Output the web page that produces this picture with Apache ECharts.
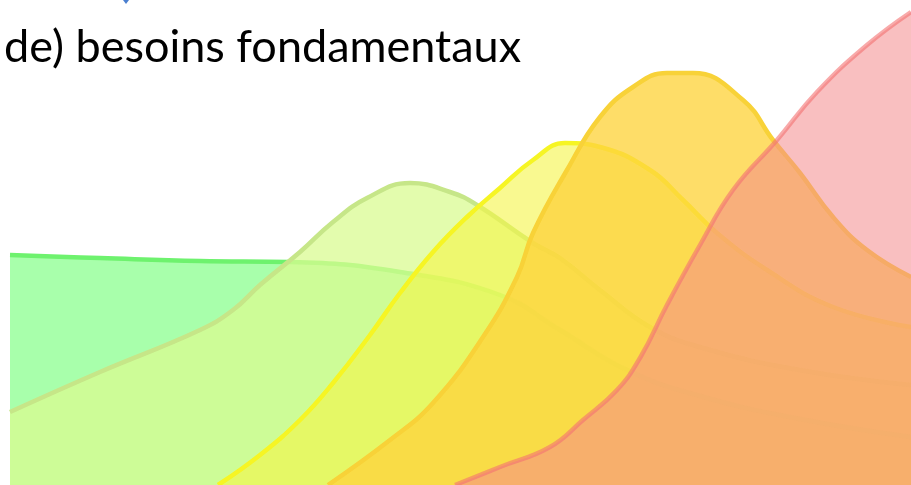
<!DOCTYPE html>
<html>
<head>
<meta charset="utf-8">
<script src="https://cdn.jsdelivr.net/npm/echarts@6/dist/echarts.min.js"></script>
<style>html,body{margin:0;padding:0;background:#fff;}#c{width:911px;height:485px;}</style>
</head>
<body>
<div id="c"></div>
<script>
// x: horizontal position (0..901), y: height above bottom (0..485)
const seriesNames = ['Physiologiques', 'Sécurité', 'Appartenance', 'Estime', 'Accomplissement'];
const greenData = [[0,230],[90,227],[190,224],[280,223],[390,213],[490,190],[550,155],[617,115],[690,89],[790,66],[901,48]];
const lightGreenData = [[0,73],[90,113],[190,155],[223,175],[250,200],[290,233],[323,263],[357,287],[400,302],[440,293],[467,280],[523,242],[550,227],[590,195],[640,158],[690,138],[790,115],[901,100]];
const yellowData = [[208,0],[250,30],[290,65],[323,102],[360,150],[390,192],[423,233],[457,268],[490,297],[523,325],[555,342],[590,338],[640,315],[673,285],[707,252],[757,215],[823,178],[901,158]];
const goldData = [[318,0],[380,45],[423,82],[473,148],[507,208],[523,252],[557,315],[590,368],[623,398],[657,412],[683,412],[733,385],[763,345],[790,312],[823,268],[857,235],[901,208]];
const pinkData = [[445,0],[490,18],[540,38],[573,65],[607,95],[630,127],[657,180],[690,240],[723,295],[767,345],[807,393],[857,440],[901,473]];

const fills = ['rgba(0,255,10,0.34)','rgba(218,251,145,0.75)','rgba(245,245,70,0.6)','rgba(254,212,62,0.78)','rgba(244,138,140,0.55)'];
const strokes = ['#6ef26e','#c6e688','#f6f524','#f8d238','rgba(243,113,113,0.6)'];
const allData = [greenData, lightGreenData, yellowData, goldData, pinkData];

const chart = echarts.init(document.getElementById('c'));
chart.setOption({
  animation: false,
  grid: {left: 10, right: 0, top: 0, bottom: 0},
  xAxis: {type: 'value', min: 0, max: 901, show: false},
  yAxis: {type: 'value', min: 0, max: 485, show: false},
  series: allData.map((d, i) => ({
    name: seriesNames[i],
    type: 'line',
    data: d,
    smooth: 0.45,
    symbol: 'none',
    lineStyle: {color: strokes[i], width: 4.5},
    areaStyle: {color: fills[i], opacity: 1},
    z: 2 + i
  })),
  graphic: [
    {type: 'text', left: 4, top: 25, z: 100,
     style: {text: 'de) besoins fondamentaux', font: '45px Lato', fill: '#000'}},
    {type: 'polygon', z: 100, shape: {points: [[123,0],[129,0],[126,4]]}, style: {fill: '#4a7fd0'}}
  ]
});
</script>
</body>
</html>
